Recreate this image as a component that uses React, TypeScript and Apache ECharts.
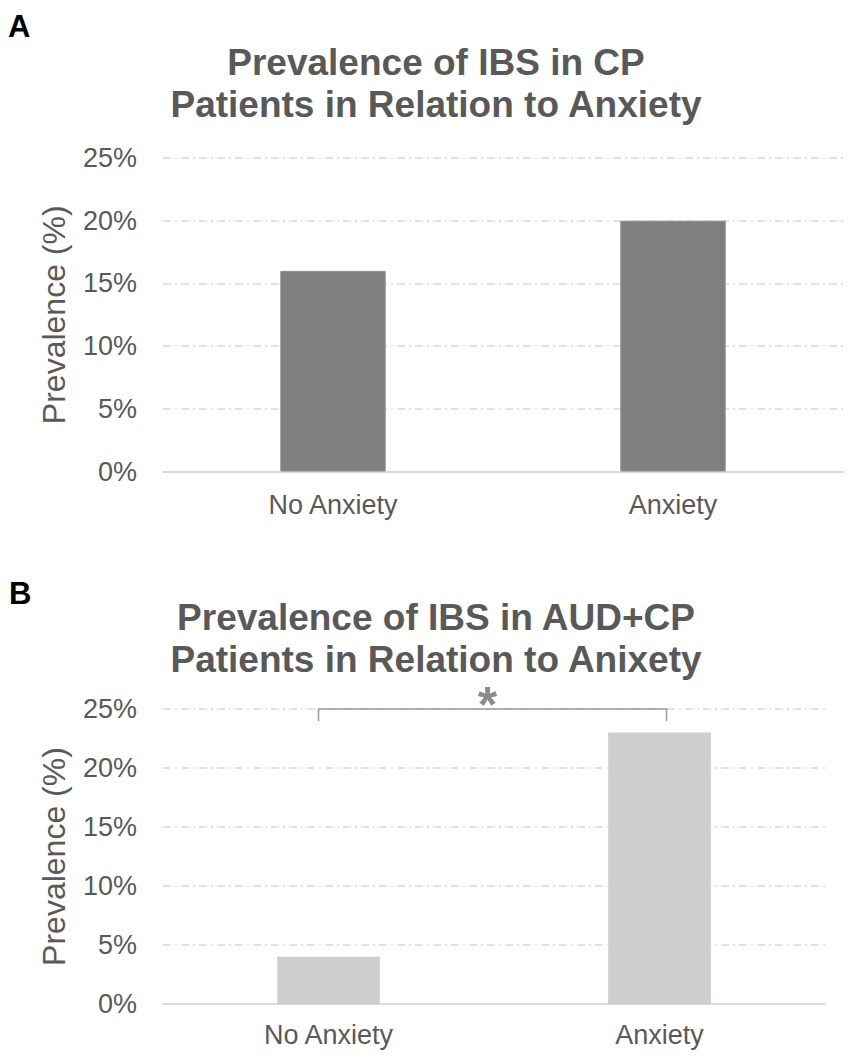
import * as echarts from "echarts";
import { useEffect, useRef } from "react";

const categories = ["No Anxiety", "Anxiety"];
const cpValues = [16, 20];
const audCpValues = [4, 23];
const yTicks = [0, 5, 10, 15, 20, 25];
// significance bracket between the two AUD+CP groups, drawn at 25%
const sigBracket = [[0, 1, 25]];

const FONT = "Liberation Sans, Arial, sans-serif";
const TEXT_COLOR = "#595959";
const GRID_COLOR = "#d9d9d9";

export default function App() {
  const chartRef = useRef(null);
  useEffect(() => {
    document.body.style.margin = "0";
    const chart = echarts.init(chartRef.current, null, { renderer: "svg" });
    chart.setOption(getChartOption());
    return () => {
      chart.dispose();
    };
  }, []);
  return <div ref={chartRef} style={{ width: "854px", height: "1058px" }} />;
}

function yAxis(gridIndex) {
  return {
    type: "value",
    gridIndex,
    min: yTicks[0],
    max: yTicks[yTicks.length - 1],
    interval: yTicks[1] - yTicks[0],
    name: "Prevalence (%)",
    nameLocation: "middle",
    nameRotate: 90,
    nameGap: 93,
    nameTextStyle: { fontSize: 32, color: TEXT_COLOR, fontFamily: FONT },
    axisLine: { show: false },
    axisTick: { show: false },
    axisLabel: {
      formatter: "{value}%",
      fontSize: 27,
      color: TEXT_COLOR,
      fontFamily: FONT,
      margin: 26,
    },
    splitLine: {
      lineStyle: { color: GRID_COLOR, width: 1.5, type: [8, 4, 2, 4] },
    },
  };
}

function xAxis(gridIndex, margin) {
  return {
    type: "category",
    gridIndex,
    data: categories,
    axisLine: { lineStyle: { color: GRID_COLOR, width: 2 } },
    axisTick: { show: false },
    axisLabel: { fontSize: 27, color: TEXT_COLOR, fontFamily: FONT, margin },
  };
}

function getChartOption() {
  return {
    animation: false,
    grid: [
      { left: 163, top: 158, width: 680, height: 313.5 },
      { left: 163, top: 709, width: 662, height: 295 },
    ],
    xAxis: [xAxis(0, 20), xAxis(1, 17)],
    yAxis: [yAxis(0), yAxis(1)],
    graphic: [
      {
        type: "text",
        left: 8,
        top: 11,
        style: { text: "A", fontSize: 31, fontWeight: "bold", fill: "#000", fontFamily: FONT },
      },
      {
        type: "text",
        x: 436,
        y: 83,
        style: {
          text: "Prevalence of IBS in CP\nPatients in Relation to Anxiety",
          fontSize: 37,
          lineHeight: 42,
          fontWeight: "bold",
          fill: TEXT_COLOR,
          fontFamily: FONT,
          align: "center",
          verticalAlign: "middle",
        },
      },
      {
        type: "text",
        left: 9,
        top: 578,
        style: { text: "B", fontSize: 31, fontWeight: "bold", fill: "#000", fontFamily: FONT },
      },
      {
        type: "text",
        x: 436,
        y: 638,
        style: {
          text: "Prevalence of IBS in AUD+CP\nPatients in Relation to Anixety",
          fontSize: 37,
          lineHeight: 42,
          fontWeight: "bold",
          fill: TEXT_COLOR,
          fontFamily: FONT,
          align: "center",
          verticalAlign: "middle",
        },
      },
    ],
    series: [
      {
        type: "bar",
        xAxisIndex: 0,
        yAxisIndex: 0,
        data: cpValues,
        barWidth: "31%",
        itemStyle: { color: "#7f7f7f", borderColor: "#8f8f8f", borderWidth: 1 },
      },
      {
        type: "bar",
        xAxisIndex: 1,
        yAxisIndex: 1,
        data: audCpValues,
        barWidth: "31%",
        itemStyle: { color: "#cfcdce" },
      },
      {
        type: "custom",
        xAxisIndex: 1,
        yAxisIndex: 1,
        data: sigBracket,
        z: 5,
        renderItem: (params, api) => {
          const p0 = api.coord([api.value(0), api.value(2)]);
          const p1 = api.coord([api.value(1), api.value(2)]);
          const x0 = p0[0] - 10;
          const x1 = p1[0] + 7;
          const y = p0[1];
          return {
            type: "group",
            children: [
              {
                type: "polyline",
                shape: { points: [[x0, y + 12], [x0, y], [x1, y], [x1, y + 12]] },
                style: { stroke: "#999999", lineWidth: 1.5, fill: null },
              },
              {
                type: "text",
                x: (x0 + x1) / 2 - 5,
                y: y - 4,
                style: {
                  text: "*",
                  fontSize: 50,
                  fontWeight: "bold",
                  fill: "#8c8c8c",
                  fontFamily: FONT,
                  align: "center",
                  verticalAlign: "middle",
                },
              },
            ],
          };
        },
      },
    ],
  };
}
